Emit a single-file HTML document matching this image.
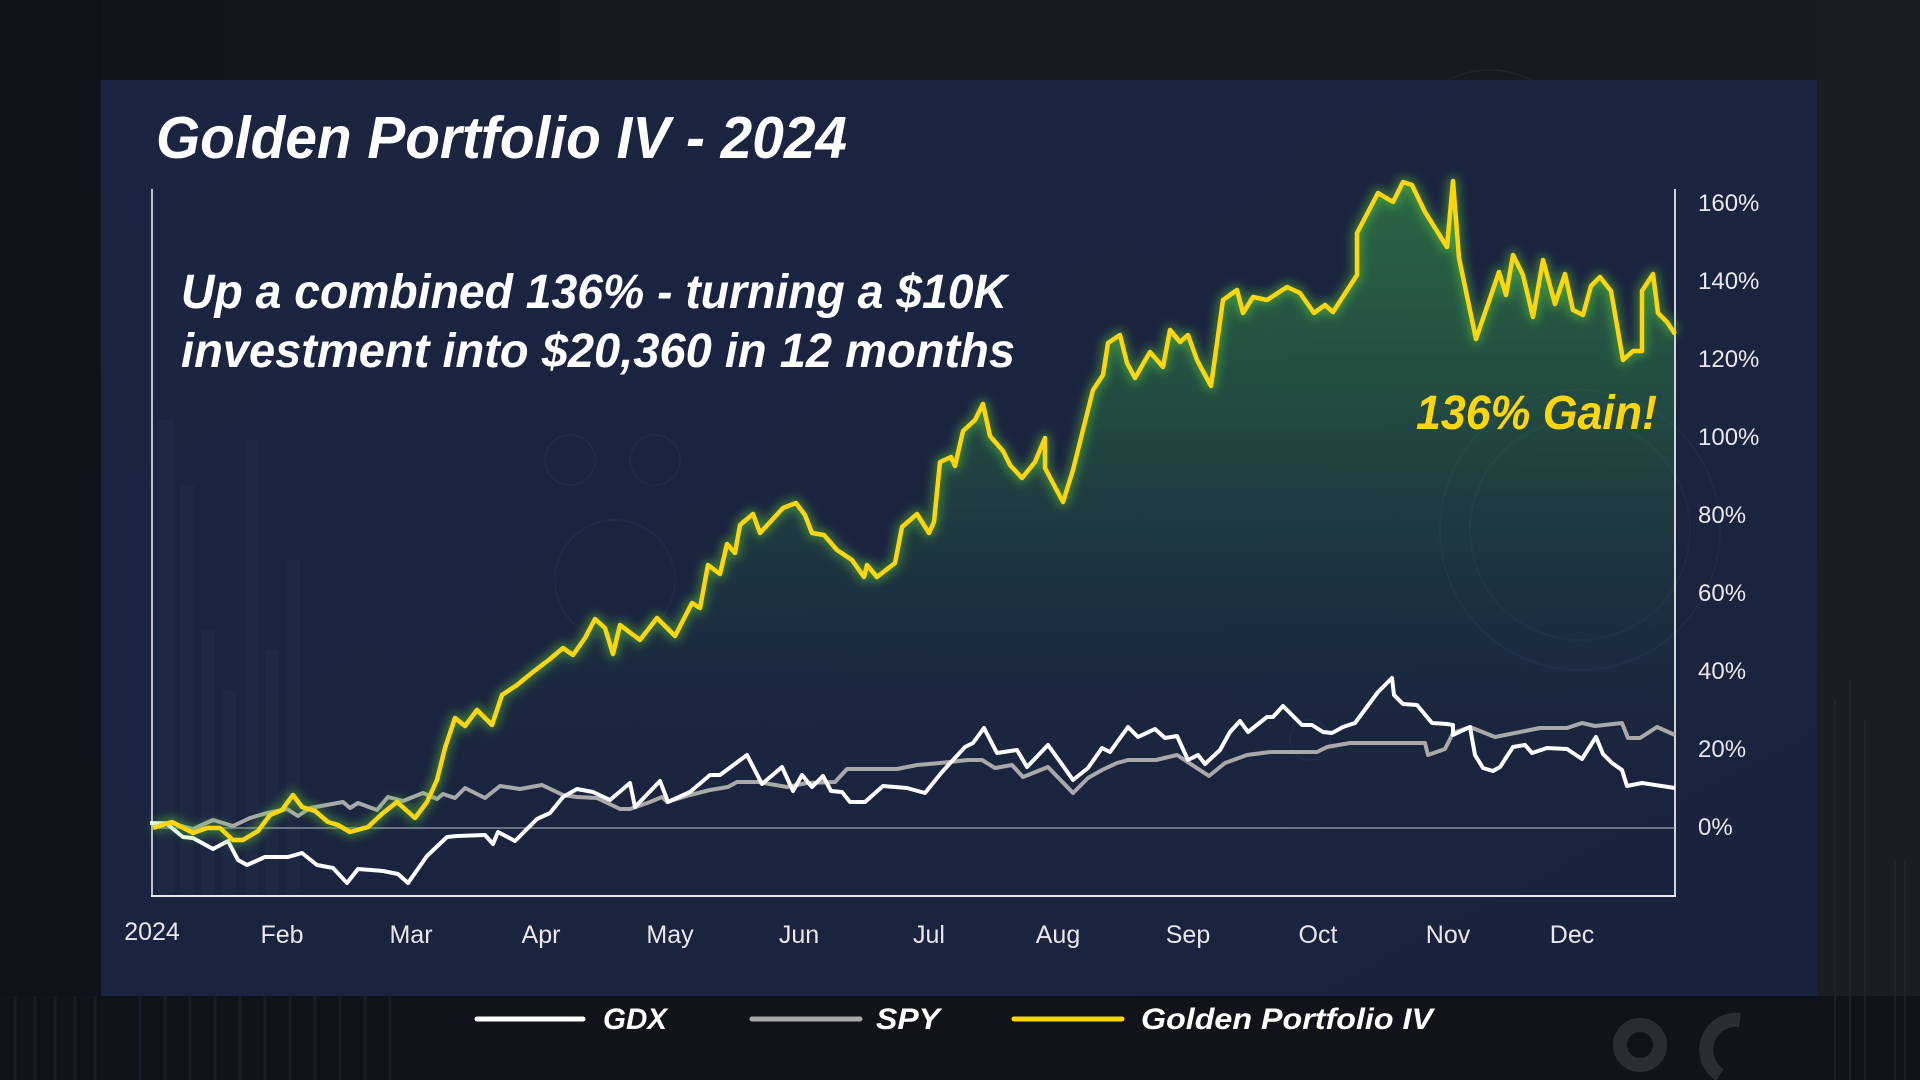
<!DOCTYPE html>
<html>
<head>
<meta charset="utf-8">
<style>
  html,body{margin:0;padding:0;background:#12161e;}
  svg{display:block;}
  text{font-family:"Liberation Sans", Arial, sans-serif;}
</style>
</head>
<body>
<svg width="1920" height="1080" viewBox="0 0 1920 1080" xmlns="http://www.w3.org/2000/svg">
  <defs>
    <linearGradient id="bgTop" x1="0" y1="0" x2="1" y2="0">
      <stop offset="0" stop-color="#10141c"/>
      <stop offset="0.5" stop-color="#161a23"/>
      <stop offset="1" stop-color="#181b22"/>
    </linearGradient>
    <linearGradient id="panelG" x1="0" y1="0" x2="1" y2="1">
      <stop offset="0" stop-color="#1b2541"/>
      <stop offset="1" stop-color="#19233d"/>
    </linearGradient>
    <linearGradient id="fillG" gradientUnits="userSpaceOnUse" x1="0" y1="180" x2="0" y2="830">
      <stop offset="0" stop-color="#38a048" stop-opacity="0.55"/>
      <stop offset="0.35" stop-color="#2f8a45" stop-opacity="0.38"/>
      <stop offset="0.7" stop-color="#2a6a45" stop-opacity="0.12"/>
      <stop offset="1" stop-color="#1b2541" stop-opacity="0"/>
    </linearGradient>
    <filter id="glow" x="-5%" y="-10%" width="110%" height="120%">
      <feGaussianBlur stdDeviation="5"/>
    </filter>
  </defs>

  <!-- outer background -->
  <rect x="0" y="0" width="1920" height="1080" fill="url(#bgTop)"/>
  <rect x="0" y="0" width="101" height="1080" fill="#0e121a"/>
  <rect x="1817" y="0" width="103" height="1080" fill="#1a1d24"/>
  <rect x="0" y="996" width="1920" height="84" fill="#10131a"/>
  <!-- faint vertical lines bottom-left background -->
  <g stroke="#1a1f2b" stroke-width="3" opacity="0.9">
    <line x1="15" y1="996" x2="15" y2="1080"/><line x1="35" y1="996" x2="35" y2="1080"/>
    <line x1="55" y1="996" x2="55" y2="1080"/><line x1="75" y1="996" x2="75" y2="1080"/>
    <line x1="95" y1="996" x2="95" y2="1080"/><line x1="140" y1="996" x2="140" y2="1080"/>
    <line x1="165" y1="996" x2="165" y2="1080"/><line x1="190" y1="996" x2="190" y2="1080"/>
    <line x1="215" y1="996" x2="215" y2="1080"/><line x1="240" y1="996" x2="240" y2="1080"/>
    <line x1="265" y1="996" x2="265" y2="1080"/><line x1="290" y1="996" x2="290" y2="1080"/>
    <line x1="315" y1="996" x2="315" y2="1080"/><line x1="340" y1="996" x2="340" y2="1080"/>
    <line x1="365" y1="996" x2="365" y2="1080"/><line x1="390" y1="996" x2="390" y2="1080"/>
  </g>
  <!-- right strip texture -->
  <g stroke="#22252d" stroke-width="2" opacity="0.8">
    <line x1="1835" y1="700" x2="1835" y2="1080"/><line x1="1850" y1="680" x2="1850" y2="1080"/>
    <line x1="1865" y1="720" x2="1865" y2="1080"/><line x1="1895" y1="860" x2="1895" y2="1080"/>
    <line x1="1905" y1="860" x2="1905" y2="1080"/>
  </g>
  <!-- decorative circles top right -->
  <g fill="none" stroke="#262c3a" stroke-width="1.5" opacity="0.6">
    <circle cx="1490" cy="160" r="30"/><circle cx="1490" cy="160" r="50"/>
    <circle cx="1490" cy="160" r="70"/><circle cx="1490" cy="160" r="90"/>
  </g>
  <g fill="none" stroke="#3a3f48" stroke-width="14" opacity="0.6">
    <circle cx="1640" cy="1045" r="20"/>
    <path d="M1740 1020 A 30 30 0 0 0 1720 1075"/>
  </g>

  <!-- panel -->
  <rect x="101" y="80" width="1716" height="916" fill="url(#panelG)"/>

  <!-- faint panel decorations -->
  <g fill="#202b47" opacity="0.6">
    <rect x="158" y="420" width="16" height="476"/>
    <rect x="180" y="485" width="14" height="411"/>
    <rect x="201" y="630" width="14" height="266"/>
    <rect x="222" y="690" width="14" height="206"/>
    <rect x="245" y="440" width="14" height="456"/>
    <rect x="265" y="650" width="14" height="246"/>
    <rect x="286" y="560" width="14" height="336"/>
  </g>
  <g fill="none" stroke="#24304f" stroke-width="2" opacity="0.5">
    <circle cx="570" cy="460" r="25"/><circle cx="655" cy="460" r="25"/>
    <circle cx="615" cy="580" r="60"/>
    <circle cx="1310" cy="740" r="20"/>
    <circle cx="1580" cy="530" r="110"/><circle cx="1580" cy="530" r="140"/>
  </g>

  <!-- title -->
  <text x="156" y="158" font-size="59" font-weight="bold" font-style="italic" fill="#ffffff" textLength="691" lengthAdjust="spacingAndGlyphs">Golden Portfolio IV - 2024</text>

  <!-- area fill under golden line -->
  <polygon fill="url(#fillG)" points="153,828 172,822 193,833 207,828 220,828 233,840 243,840 258,831 270,815 282,810 293,795 302,807 315,811 328,822 338,825 350,832 368,827 383,813 397,802 415,818 427,802 437,780 445,748 455,718 465,726 477,710 492,725 502,695 517,685 533,672 550,659 563,648 573,655 585,638 595,619 605,628 613,654 620,625 640,640 657,618 675,636 692,603 700,608 708,565 720,574 727,544 735,553 740,525 753,514 760,533 783,508 796,503 805,515 812,533 824,535 837,550 852,560 864,577 867,565 877,577 895,563 902,527 917,514 929,533 934,522 940,462 951,457 955,466 963,431 975,420 983,404 990,436 1003,451 1010,465 1022,478 1035,462 1045,438 1045,468 1063,502 1073,470 1093,390 1103,375 1108,343 1120,335 1127,363 1135,378 1150,352 1163,367 1170,330 1180,342 1188,335 1197,360 1211,386 1223,300 1237,290 1243,313 1253,297 1267,300 1287,287 1300,293 1314,313 1325,305 1333,312 1357,275 1357,233 1378,193 1393,202 1403,182 1412,185 1425,212 1447,247 1453,181 1459,258 1476,339 1499,272 1506,295 1513,255 1523,275 1533,317 1543,260 1555,304 1565,274 1573,310 1583,315 1591,286 1600,277 1611,291 1623,360 1633,351 1642,351 1642,291 1653,274 1658,313 1667,322 1675,334 1675,896 153,896"/>

  <!-- axes -->
  <line x1="152" y1="189" x2="152" y2="896" stroke="#e8e8ee" stroke-width="1.6"/>
  <line x1="1675" y1="189" x2="1675" y2="896" stroke="#e8e8ee" stroke-width="1.8"/>
  <line x1="151" y1="896" x2="1676" y2="896" stroke="#e8e8ee" stroke-width="2"/>
  <line x1="152" y1="828" x2="1675" y2="828" stroke="#9aa0ad" stroke-width="1.6" opacity="0.85"/>

  <!-- SPY -->
  <polyline fill="none" stroke="#a9a9a9" stroke-width="4" stroke-linejoin="round" points="153,823 170,823 193,829 213,820 233,826 250,818 267,813 287,809 298,816 310,808 343,802 350,808 358,803 377,810 388,797 403,801 423,793 437,799 443,794 455,798 465,788 485,798 500,786 520,789 542,785 563,795 577,797 597,798 620,809 630,809 650,802 662,797 667,802 690,795 710,790 728,787 737,782 758,782 787,787 807,783 835,782 847,769 897,769 917,765 940,763 968,760 982,760 995,768 1012,765 1023,777 1048,767 1073,793 1088,778 1102,770 1117,763 1128,760 1140,760 1156,760 1177,755 1209,776 1225,763 1247,755 1270,752 1317,752 1327,747 1350,743 1425,743 1428,755 1445,749 1453,733 1470,727 1495,737 1540,728 1567,728 1582,723 1595,726 1622,723 1628,738 1640,738 1657,727 1675,735"/>

  <!-- GDX -->
  <polyline fill="none" stroke="#ffffff" stroke-width="4" stroke-linejoin="round" points="150,823 167,824 183,837 193,838 213,849 228,841 238,860 247,865 265,857 288,857 302,853 317,865 333,868 347,883 358,869 383,871 398,874 408,883 427,856 447,837 457,836 485,835 493,844 498,832 515,841 537,819 550,813 563,797 577,789 593,792 610,800 630,783 635,807 660,781 668,802 690,792 710,775 720,775 747,755 762,784 782,767 793,791 802,775 812,787 823,776 831,791 842,792 850,802 865,802 883,786 907,788 925,793 942,772 965,747 973,743 984,728 997,753 1017,750 1027,767 1048,745 1061,763 1073,780 1088,768 1102,748 1110,752 1128,727 1138,737 1155,729 1165,738 1177,736 1188,760 1198,755 1205,764 1220,750 1230,732 1240,721 1248,732 1267,717 1273,717 1283,706 1302,725 1312,725 1323,732 1332,733 1343,727 1355,723 1378,692 1392,678 1394,695 1403,704 1417,705 1432,723 1447,724 1453,725 1453,735 1470,727 1475,755 1483,768 1493,771 1500,767 1513,747 1525,745 1532,753 1547,748 1567,749 1582,759 1596,737 1603,754 1612,763 1622,770 1627,786 1642,783 1675,788"/>

  <!-- Golden Portfolio glow + line -->
  <polyline fill="none" stroke="#5ccf3a" stroke-opacity="0.5" stroke-width="10" stroke-linejoin="round" filter="url(#glow)" points="153,828 172,822 193,833 207,828 220,828 233,840 243,840 258,831 270,815 282,810 293,795 302,807 315,811 328,822 338,825 350,832 368,827 383,813 397,802 415,818 427,802 437,780 445,748 455,718 465,726 477,710 492,725 502,695 517,685 533,672 550,659 563,648 573,655 585,638 595,619 605,628 613,654 620,625 640,640 657,618 675,636 692,603 700,608 708,565 720,574 727,544 735,553 740,525 753,514 760,533 783,508 796,503 805,515 812,533 824,535 837,550 852,560 864,577 867,565 877,577 895,563 902,527 917,514 929,533 934,522 940,462 951,457 955,466 963,431 975,420 983,404 990,436 1003,451 1010,465 1022,478 1035,462 1045,438 1045,468 1063,502 1073,470 1093,390 1103,375 1108,343 1120,335 1127,363 1135,378 1150,352 1163,367 1170,330 1180,342 1188,335 1197,360 1211,386 1223,300 1237,290 1243,313 1253,297 1267,300 1287,287 1300,293 1314,313 1325,305 1333,312 1357,275 1357,233 1378,193 1393,202 1403,182 1412,185 1425,212 1447,247 1453,181 1459,258 1476,339 1499,272 1506,295 1513,255 1523,275 1533,317 1543,260 1555,304 1565,274 1573,310 1583,315 1591,286 1600,277 1611,291 1623,360 1633,351 1642,351 1642,291 1653,274 1658,313 1667,322 1675,334"/>
  <polyline fill="none" stroke="#ffd60a" stroke-width="4.5" stroke-linejoin="round" points="153,828 172,822 193,833 207,828 220,828 233,840 243,840 258,831 270,815 282,810 293,795 302,807 315,811 328,822 338,825 350,832 368,827 383,813 397,802 415,818 427,802 437,780 445,748 455,718 465,726 477,710 492,725 502,695 517,685 533,672 550,659 563,648 573,655 585,638 595,619 605,628 613,654 620,625 640,640 657,618 675,636 692,603 700,608 708,565 720,574 727,544 735,553 740,525 753,514 760,533 783,508 796,503 805,515 812,533 824,535 837,550 852,560 864,577 867,565 877,577 895,563 902,527 917,514 929,533 934,522 940,462 951,457 955,466 963,431 975,420 983,404 990,436 1003,451 1010,465 1022,478 1035,462 1045,438 1045,468 1063,502 1073,470 1093,390 1103,375 1108,343 1120,335 1127,363 1135,378 1150,352 1163,367 1170,330 1180,342 1188,335 1197,360 1211,386 1223,300 1237,290 1243,313 1253,297 1267,300 1287,287 1300,293 1314,313 1325,305 1333,312 1357,275 1357,233 1378,193 1393,202 1403,182 1412,185 1425,212 1447,247 1453,181 1459,258 1476,339 1499,272 1506,295 1513,255 1523,275 1533,317 1543,260 1555,304 1565,274 1573,310 1583,315 1591,286 1600,277 1611,291 1623,360 1633,351 1642,351 1642,291 1653,274 1658,313 1667,322 1675,334"/>

  <!-- subtitle -->
  <text x="181" y="308" font-size="48" font-weight="bold" font-style="italic" fill="#ffffff" textLength="826" lengthAdjust="spacingAndGlyphs">Up a combined 136% - turning a $10K</text>
  <text x="181" y="367" font-size="48" font-weight="bold" font-style="italic" fill="#ffffff" textLength="834" lengthAdjust="spacingAndGlyphs">investment into $20,360 in 12 months</text>

  <!-- gain label -->
  <text x="1416" y="429" font-size="48" font-weight="bold" font-style="italic" fill="#ffd60a" textLength="241" lengthAdjust="spacingAndGlyphs">136% Gain!</text>

  <!-- y axis labels -->
  <g font-size="24" fill="#e8e8ec">
    <text x="1698" y="211">160%</text>
    <text x="1698" y="289">140%</text>
    <text x="1698" y="367">120%</text>
    <text x="1698" y="445">100%</text>
    <text x="1698" y="523">80%</text>
    <text x="1698" y="601">60%</text>
    <text x="1698" y="679">40%</text>
    <text x="1698" y="757">20%</text>
    <text x="1698" y="835">0%</text>
  </g>

  <!-- x axis labels -->
  <g font-size="25" fill="#e8e8ec" text-anchor="middle">
    <text x="152" y="940">2024</text>
    <text x="282" y="943">Feb</text>
    <text x="411" y="943">Mar</text>
    <text x="541" y="943">Apr</text>
    <text x="670" y="943">May</text>
    <text x="799" y="943">Jun</text>
    <text x="929" y="943">Jul</text>
    <text x="1058" y="943">Aug</text>
    <text x="1188" y="943">Sep</text>
    <text x="1318" y="943">Oct</text>
    <text x="1448" y="943">Nov</text>
    <text x="1572" y="943">Dec</text>
  </g>

  <!-- legend -->
  <line x1="477" y1="1019" x2="583" y2="1019" stroke="#ffffff" stroke-width="5" stroke-linecap="round"/>
  <text x="603" y="1029" font-size="30" font-weight="bold" font-style="italic" fill="#ffffff" textLength="64" lengthAdjust="spacingAndGlyphs">GDX</text>
  <line x1="752" y1="1019" x2="860" y2="1019" stroke="#a9a9a9" stroke-width="5" stroke-linecap="round"/>
  <text x="876" y="1029" font-size="30" font-weight="bold" font-style="italic" fill="#ffffff" textLength="64" lengthAdjust="spacingAndGlyphs">SPY</text>
  <line x1="1014" y1="1019" x2="1122" y2="1019" stroke="#ffd60a" stroke-width="5" stroke-linecap="round"/>
  <text x="1141" y="1029" font-size="30" font-weight="bold" font-style="italic" fill="#ffffff" textLength="292" lengthAdjust="spacingAndGlyphs">Golden Portfolio IV</text>
</svg>
</body>
</html>
